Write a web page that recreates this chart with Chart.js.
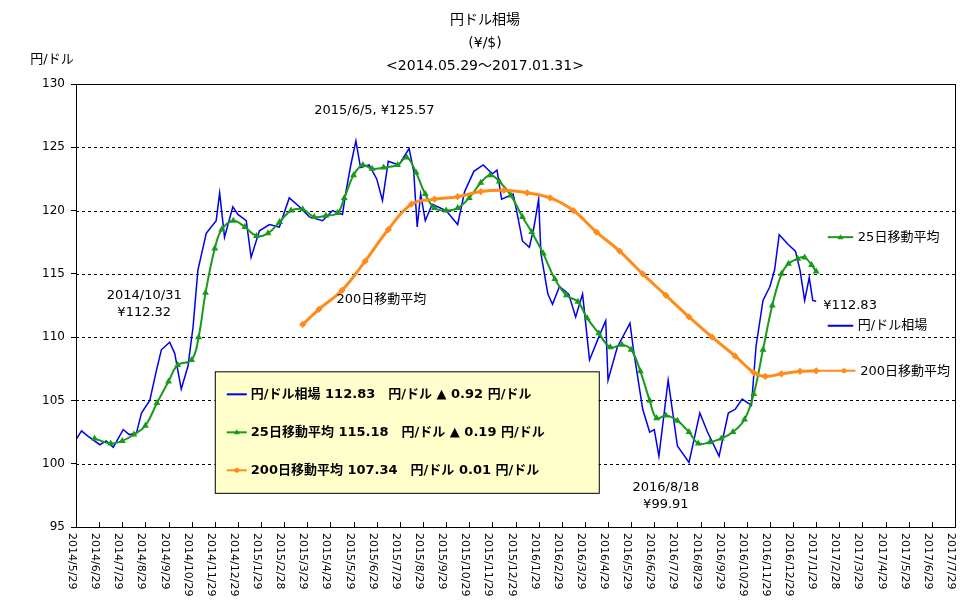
<!DOCTYPE html>
<html>
<head>
<meta charset="utf-8">
<script src="https://cdn.jsdelivr.net/npm/chart.js@4"></script>
<style>
  body { margin: 0; background: #fff; }
  #wrap { width: 970px; height: 604px; }
</style>
</head>
<body>
<div id="wrap"><canvas id="fx"></canvas></div>
<script>
// x = months since 2014/5/29
const tickLabels = [
  "2014/5/29","2014/6/29","2014/7/29","2014/8/29","2014/9/29","2014/10/29","2014/11/29","2014/12/29",
  "2015/1/29","2015/2/28","2015/3/29","2015/4/29","2015/5/29","2015/6/29","2015/7/29","2015/8/29",
  "2015/9/29","2015/10/29","2015/11/29","2015/12/29","2016/1/29","2016/2/29","2016/3/29","2016/4/29",
  "2016/5/29","2016/6/29","2016/7/29","2016/8/29","2016/9/29","2016/10/29","2016/11/29","2016/12/29",
  "2017/1/29","2017/2/28","2017/3/29","2017/4/29","2017/5/29","2017/6/29","2017/7/29"
];
const yenX = [0,0.24,0.5,1.03,1.3,1.61,2.04,2.3,2.61,2.83,3.19,3.48,3.69,4.05,4.27,4.55,4.84,5.06,5.27,5.63,6.06,6.21,6.42,6.78,7.0,7.36,7.57,7.93,8.36,8.79,9.22,9.66,10.09,10.66,11.09,11.52,11.67,11.88,12.1,12.3,12.67,13.0,13.25,13.5,13.96,14.4,14.6,14.75,14.9,15.1,15.4,16.0,16.5,16.8,17.2,17.6,18.0,18.2,18.4,18.9,19.1,19.3,19.6,19.8,20.0,20.1,20.4,20.6,20.9,21.3,21.6,21.9,22.2,22.6,22.9,23.0,23.4,23.95,24.1,24.5,24.8,25.0,25.2,25.6,26.0,26.5,26.97,27.3,27.8,28.2,28.5,28.8,29.2,29.4,29.7,30.0,30.2,30.4,30.8,31.1,31.3,31.5,31.7,31.85,32.0];
const yenY = [101.9,102.6,102.2,101.5,101.8,101.3,102.7,102.3,102.4,104,105,107.4,109,109.6,108.7,105.9,107.7,110.8,115.3,118.2,119.2,121.4,117.9,120.3,119.7,119.2,116.3,118.4,118.9,118.7,121,120.3,119.5,119.2,120,119.7,121.5,123.6,125.5,123.4,123.6,122.5,120.8,123.9,123.6,124.9,123.1,118.7,121.3,119.2,120.5,120,118.9,121.5,123.1,123.6,122.9,123.2,120.9,121.3,119.5,117.6,117.1,118.7,120.9,116.6,113.4,112.6,114,113.4,111.6,113.4,108.2,110,111.3,106.6,109.2,111.1,109,104.3,102.5,102.7,100.6,106.6,101.4,100.1,104,102.5,100.6,104,104.3,105.1,104.6,109.3,112.9,114,115.3,118.1,117.3,116.8,115.3,112.9,114.7,112.9,112.83];
const ma25X = [0.8,1.5,2.0,2.5,3.0,3.5,4.0,4.4,5.0,5.3,5.6,6.0,6.3,6.8,7.3,7.8,8.3,8.8,9.3,9.8,10.3,10.8,11.3,11.6,12.0,12.4,12.8,13.3,13.9,14.3,14.7,15.1,15.5,16.0,16.5,17.0,17.5,17.9,18.3,18.8,19.3,19.7,20.2,20.7,21.2,21.7,22.1,22.6,23.1,23.6,24.0,24.4,24.8,25.1,25.5,26.0,26.5,26.9,27.4,27.9,28.4,28.9,29.3,29.7,30.1,30.5,30.8,31.2,31.5,31.8,32.0];
const ma25Y = [102,101.6,101.8,102.3,103,104.8,106.5,107.8,108.2,110,113.5,117,118.5,119.2,118.7,118,118.2,119.1,120,120.1,119.5,119.6,119.8,121,122.8,123.6,123.3,123.4,123.6,124.2,123,121.3,120.2,120,120.2,121,122.2,122.8,122.3,121.2,119.5,118.3,116.6,114.6,113.3,112.8,111.5,110.3,109.2,109.4,109,107.3,105,103.6,103.8,103.4,102.5,101.6,101.7,102,102.5,103.5,105.5,109,112.5,115,115.8,116.2,116.3,115.7,115.18];
const ma200X = [9.8,10.5,11.5,12.5,13.5,14.5,15.5,16.5,17.5,18.5,19.5,20.5,21.5,22.5,23.5,24.5,25.5,26.5,27.5,28.5,29.3,29.8,30.5,31.3,32.0];
const ma200Y = [111,112.2,113.7,116,118.5,120.5,120.9,121.1,121.5,121.6,121.4,121,120,118.3,116.8,115,113.3,111.6,110,108.5,107.2,106.9,107.1,107.3,107.34];
const yTicks = [100, 105, 110, 115, 120, 125];

const toXY = (xs, ys) => xs.map((x, i) => ({ x: x, y: ys[i] }));
const FONT = "'DejaVu Sans', 'Noto Sans CJK JP', sans-serif";
const BLUE = "#0000ee", GREEN = "#1a9a1a", ORANGE = "#ff8c1a";

function tri(ctx, x, y, c) {
  ctx.fillStyle = c;
  ctx.beginPath(); ctx.moveTo(x, y - 3); ctx.lineTo(x + 3, y + 2); ctx.lineTo(x - 3, y + 2); ctx.closePath(); ctx.fill();
}
function dot(ctx, x, y, c) {
  ctx.fillStyle = c;
  ctx.beginPath(); ctx.arc(x, y, 2.5, 0, Math.PI * 2); ctx.fill();
}

const dashGrid = {
  id: "dashGrid",
  beforeDatasetsDraw(chart) {
    const { ctx, chartArea: a, scales } = chart;
    ctx.save();
    ctx.strokeStyle = "#000";
    ctx.lineWidth = 1;
    ctx.setLineDash([3, 3]);
    yTicks.forEach((v) => {
      const py = Math.round(scales.y.getPixelForValue(v)) + 0.5;
      ctx.beginPath(); ctx.moveTo(a.left, py); ctx.lineTo(a.right, py); ctx.stroke();
    });
    ctx.restore();
  }
};

const drawText = {
  id: "drawText",
  afterDraw(chart) {
    const { ctx, chartArea: a, scales } = chart;
    const X = (v) => scales.x.getPixelForValue(v);
    const Y = (v) => scales.y.getPixelForValue(v);
    ctx.save();
    // frame
    ctx.strokeStyle = "#000";
    ctx.lineWidth = 1;
    ctx.strokeRect(a.left + 0.5, a.top + 0.5, a.right - a.left, a.bottom - a.top);
    // x ticks (inside) and rotated labels
    ctx.font = "11px " + FONT;
    ctx.fillStyle = "#000";
    tickLabels.forEach((t, i) => {
      const px = Math.round(X(i)) + 0.5;
      ctx.beginPath();
      ctx.moveTo(px, a.bottom);
      ctx.lineTo(px, a.bottom - 5);
      ctx.stroke();
      ctx.save();
      ctx.translate(px - 5, a.bottom + 6);
      ctx.rotate(Math.PI / 2);
      ctx.textAlign = "left";
      ctx.textBaseline = "middle";
      ctx.fillText(t, 0, 0);
      ctx.restore();
    });
    // titles
    ctx.textAlign = "center";
    ctx.textBaseline = "middle";
    ctx.font = "14px " + FONT;
    ctx.fillText("円ドル相場", 485, 20);
    ctx.fillText("(¥/$)", 485, 43);
    ctx.fillText("<2014.05.29〜2017.01.31>", 485, 66);
    ctx.font = "13px " + FONT;
    ctx.fillText("円/ドル", 52, 60);
    // annotations
    ctx.font = "13px " + FONT;
    ctx.fillText("2014/10/31", X(2.95), Y(113.3));
    ctx.fillText("¥112.32", X(2.95), Y(111.9));
    ctx.fillText("2015/6/5, ¥125.57", X(12.9), Y(127.9));
    ctx.fillText("200日移動平均", X(13.2), Y(113));
    ctx.fillText("2016/8/18", X(25.5), Y(98.1));
    ctx.fillText("¥99.91", X(25.5), Y(96.8));
    ctx.textAlign = "left";
    ctx.fillText("¥112.83", X(32.3), Y(112.5));
    ctx.fillText("円/ドル相場", X(33.8), Y(110.9));
    ctx.fillText("25日移動平均", X(33.8), Y(117.9));
    ctx.fillText("200日移動平均", X(33.9), Y(107.3));
    ctx.lineWidth = 2;
    ctx.strokeStyle = BLUE;
    ctx.beginPath(); ctx.moveTo(X(32.5), Y(110.9)); ctx.lineTo(X(33.6), Y(110.9)); ctx.stroke();
    ctx.strokeStyle = GREEN;
    ctx.beginPath(); ctx.moveTo(X(32.5), Y(117.9)); ctx.lineTo(X(33.6), Y(117.9)); ctx.stroke();
    ctx.strokeStyle = ORANGE;
    ctx.beginPath(); ctx.moveTo(X(32.0), Y(107.34)); ctx.lineTo(X(33.7), Y(107.34)); ctx.stroke();
    tri(ctx, X(33.05), Y(117.9), GREEN);
    dot(ctx, X(33.2), Y(107.34), ORANGE);
    // legend box
    const bx = X(6.0), by = Y(107.3), bw = X(22.6) - bx, bh = Y(97.7) - by;
    ctx.fillStyle = "#ffffcc";
    ctx.fillRect(bx, by, bw, bh);
    ctx.strokeStyle = "#000";
    ctx.lineWidth = 1;
    ctx.strokeRect(bx + 0.5, by + 0.5, bw, bh);
    const rows = [
      [BLUE, "円/ドル相場 112.83　円/ドル ▲ 0.92 円/ドル", null],
      [GREEN, "25日移動平均 115.18　円/ドル ▲ 0.19 円/ドル", tri],
      [ORANGE, "200日移動平均 107.34　円/ドル 0.01 円/ドル", dot]
    ];
    ctx.font = "bold 13px " + FONT;
    rows.forEach((r, i) => {
      const ry = by + 23 + i * 38;
      ctx.strokeStyle = r[0];
      ctx.lineWidth = 2;
      ctx.beginPath(); ctx.moveTo(bx + 12, ry); ctx.lineTo(bx + 32, ry); ctx.stroke();
      if (r[2]) r[2](ctx, bx + 22, ry, r[0]);
      ctx.fillStyle = "#000";
      ctx.fillText(r[1], bx + 36, ry);
    });
    ctx.restore();
  }
};

new Chart(document.getElementById("fx"), {
  type: "line",
  data: {
    datasets: [
      { label: "200日移動平均", data: toXY(ma200X, ma200Y), borderColor: ORANGE, backgroundColor: "#ffaa33",
        borderWidth: 3, pointRadius: 1.5, pointStyle: "rectRot", tension: 0.4 },
      { label: "25日移動平均", data: toXY(ma25X, ma25Y), borderColor: GREEN, backgroundColor: "#33cc33",
        borderWidth: 2, pointRadius: 2, pointStyle: "triangle", tension: 0.4 },
      { label: "円/ドル相場", data: toXY(yenX, yenY), borderColor: BLUE, borderWidth: 1.5, pointRadius: 0, tension: 0 }
    ]
  },
  options: {
    responsive: true,
    maintainAspectRatio: false,
    animation: false,
    layout: { padding: { top: 84, right: 15, left: 0, bottom: 0 } },
    plugins: { legend: { display: false }, tooltip: { enabled: false } },
    scales: {
      x: {
        type: "linear", min: 0, max: 38,
        afterFit: (s) => { s.height = 77; },
        grid: { display: false, drawTicks: false },
        border: { display: false },
        ticks: { display: false, stepSize: 1 }
      },
      y: {
        min: 95, max: 130,
        afterFit: (s) => { s.width = 76; },
        border: { display: false },
        grid: { drawOnChartArea: false, color: "#000", tickLength: 5, lineWidth: 1 },
        ticks: { stepSize: 5, color: "#000", font: { family: FONT, size: 12 }, padding: 6 }
      }
    }
  },
  plugins: [dashGrid, drawText]
});
</script>
</body>
</html>
